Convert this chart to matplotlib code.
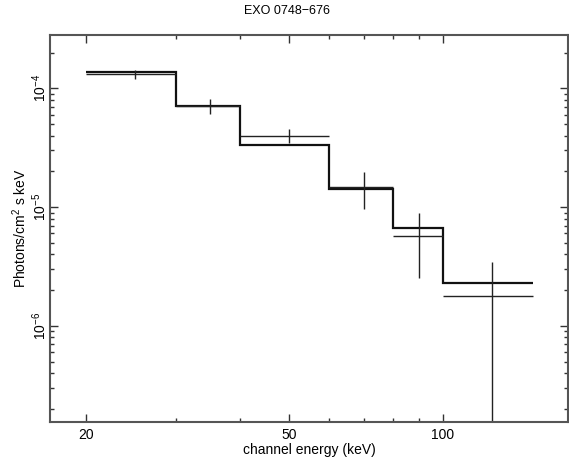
import matplotlib
matplotlib.use("Agg")
import matplotlib.pyplot as plt
import numpy as np

# Data
edges = [20, 30, 40, 60, 80, 100, 150]
centers = [25, 35, 50, 70, 90, 125]
model = [1.38e-4, 7.1e-5, 3.35e-5, 1.41e-5, 6.7e-6, 2.3e-6]
data = [1.31e-4, 7.15e-5, 4.0e-5, 1.48e-5, 5.7e-6, 1.8e-6]
err = [1.1e-5, 1.05e-5, 5.5e-6, 5.1e-6, 3.15e-6, 1.65e-6]
xticks = [20, 50, 100]
xticklabels = ["20", "50", "100"]
yticks = [1e-6, 1e-5, 1e-4]
yticklabels = [r"$10^{-6}$", r"$10^{-5}$", r"$10^{-4}$"]

plt.rcParams['font.family'] = ['Liberation Sans', 'DejaVu Sans']
plt.rcParams['mathtext.fontset'] = 'custom'
plt.rcParams['mathtext.rm'] = 'Liberation Sans'
plt.rcParams['mathtext.it'] = 'Liberation Sans'

fig = plt.figure(figsize=(5.69, 4.62), dpi=100)
ax = fig.add_axes([50/569, 40/462, 518/569, 387/462])

ax.set_xscale('log')
ax.set_yscale('log')
ax.set_xlim(17.0, 176)
ax.set_ylim(1.555e-7, 2.81e-4)

lefts = np.array(edges[:-1])
rights = np.array(edges[1:])
cx = np.array(centers)
xerr = [cx - lefts, rights - cx]

ax.errorbar(centers, data, xerr=xerr, yerr=err, fmt='none',
            ecolor='#222222', elinewidth=1.0, capsize=0)
ax.stairs(model, edges, color='#111111', linewidth=1.6, baseline=None)

ax.set_xticks(xticks)
ax.set_xticklabels(xticklabels)
ax.xaxis.set_minor_locator(matplotlib.ticker.FixedLocator([30, 40, 60, 70, 80, 90]))
ax.xaxis.set_minor_formatter(matplotlib.ticker.NullFormatter())
ax.set_yticks(yticks)
ax.set_yticklabels(yticklabels, rotation=90, va='center')
ax.yaxis.set_minor_locator(matplotlib.ticker.LogLocator(base=10, subs=np.arange(2, 10), numticks=20))
ax.yaxis.set_minor_formatter(matplotlib.ticker.NullFormatter())

ax.tick_params(which='both', direction='in', top=True, right=True,
               color='#333333', labelsize=10, width=1.0)
ax.tick_params(which='major', length=6)
ax.tick_params(which='minor', length=3)
ax.tick_params(axis='x', which='major', pad=4)
ax.tick_params(axis='y', which='major', pad=1)

for s in ax.spines.values():
    s.set_color('#555555')
    s.set_linewidth(1.5)

ax.set_xlabel("channel energy (keV)", fontsize=10, labelpad=1)
ax.set_ylabel(r"Photons/cm$^2$ s keV", fontsize=10, labelpad=1)
fig.text(287/569, 1 - 11/462, "EXO 0748\u2212676", ha='center', va='center', fontsize=9)

fig.savefig("out.png", dpi=100)
